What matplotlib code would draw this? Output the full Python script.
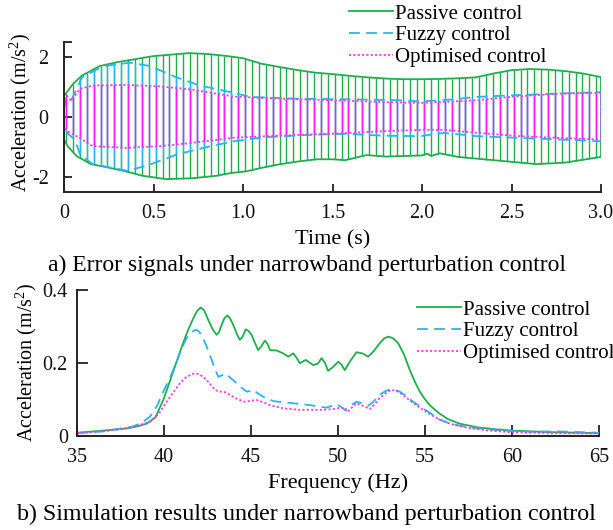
import numpy as np
import matplotlib
matplotlib.use("Agg")
import matplotlib.pyplot as plt
from matplotlib.lines import Line2D

plt.rcParams["font.family"] = ["Liberation Serif", "DejaVu Serif"]
plt.rcParams["mathtext.fontset"] = "custom"
plt.rcParams["mathtext.rm"] = "Liberation Serif"

# ---------------- (a) time-domain error signals: peak envelopes ----------------
t_passive_up = [0.0, 0.05, 0.1, 0.2, 0.3, 0.4, 0.5, 0.6, 0.7, 0.8, 0.9, 1.0, 1.1, 1.2, 1.3,
                1.4, 1.5, 1.6, 1.7, 1.8, 1.9, 2.0, 2.1, 2.2, 2.3, 2.4, 2.5, 2.6, 2.7, 2.8,
                2.9, 3.0]
passive_up = [0.70, 1.10, 1.38, 1.70, 1.83, 1.93, 2.03, 2.08, 2.13, 2.10, 2.04, 1.96, 1.78,
              1.67, 1.57, 1.48, 1.43, 1.37, 1.32, 1.28, 1.26, 1.26, 1.27, 1.29, 1.32, 1.45,
              1.56, 1.60, 1.58, 1.53, 1.45, 1.33]
t_passive_lo = [0.0, 0.02, 0.07, 0.15, 0.26, 0.35, 0.44, 0.57, 0.72, 0.85, 0.93, 1.02, 1.1,
                1.2, 1.3, 1.41, 1.5, 1.57, 1.69, 1.8, 1.9, 2.0, 2.03, 2.05, 2.1, 2.2, 2.4,
                2.64, 2.8, 3.0]
passive_lo = [-0.75, -0.97, -1.30, -1.57, -1.70, -1.82, -1.96, -2.07, -2.04, -1.96, -1.87,
              -1.81, -1.70, -1.58, -1.49, -1.41, -1.41, -1.44, -1.27, -1.32, -1.30, -1.28,
              -1.22, -1.30, -1.21, -1.33, -1.44, -1.57, -1.52, -1.33]

t_fuzzy_up = [0.0, 0.015, 0.04, 0.1, 0.22, 0.37, 0.48, 0.63, 0.76, 0.93, 1.04, 1.3, 1.58,
              1.86, 1.99, 2.12, 2.31, 2.49, 2.77, 3.0]
fuzzy_up = [0.30, 0.67, 0.55, 1.32, 1.70, 1.81, 1.70, 1.32, 1.05, 0.83, 0.67, 0.61, 0.59,
            0.56, 0.52, 0.56, 0.67, 0.72, 0.78, 0.83]
t_fuzzy_lo = [0.0, 0.02, 0.06, 0.09, 0.16, 0.35, 0.46, 0.63, 0.82, 0.95, 1.11, 1.39, 1.58,
              1.77, 1.99, 2.12, 2.31, 2.55, 2.77, 3.0]
fuzzy_lo = [-0.30, -0.55, -0.75, -1.25, -1.57, -1.79, -1.63, -1.25, -0.97, -0.81, -0.68,
            -0.59, -0.56, -0.62, -0.64, -0.53, -0.64, -0.70, -0.75, -0.81]

t_opt_up = [0.0, 0.015, 0.04, 0.09, 0.16, 0.35, 0.54, 0.72, 0.95, 1.21, 1.49, 1.77, 1.99,
            2.12, 2.31, 2.49, 2.77, 3.0]
opt_up = [0.30, 0.72, 0.55, 0.94, 1.05, 1.07, 1.02, 0.91, 0.68, 0.61, 0.56, 0.50, 0.47,
          0.50, 0.56, 0.67, 0.78, 0.81]
t_opt_lo = [0.0, 0.02, 0.07, 0.16, 0.35, 0.54, 0.72, 0.95, 1.21, 1.49, 1.77, 1.99, 2.12,
            2.31, 2.55, 2.77, 3.0]
opt_lo = [-0.30, -0.48, -0.64, -0.97, -1.03, -0.97, -0.86, -0.69, -0.62, -0.56, -0.48,
          -0.43, -0.43, -0.53, -0.64, -0.70, -0.75]

# ---------------- (b) acceleration spectra ----------------
f_passive = [35, 36, 37, 38, 38.5, 39.0, 39.5, 39.96, 40.34, 40.7, 41.1, 41.4, 41.68, 41.9,
             42.1, 42.3, 42.54, 42.8, 43.02, 43.15, 43.31, 43.48, 43.65, 43.8, 43.98, 44.2,
             44.36, 44.52, 44.69, 44.85, 45.03, 45.25, 45.41, 45.6, 45.8, 45.95, 46.09,
             46.47, 46.85, 47.14, 47.43, 47.62, 47.8, 48.15, 48.57, 48.85, 49.05, 49.25,
             49.43, 49.7, 50.01, 50.2, 50.39, 50.7, 51.06, 51.4, 51.73, 52.05, 52.4, 52.65,
             52.88, 53.15, 53.46, 53.8, 54.13, 54.4, 54.7, 55.0, 55.27, 55.8, 56.3, 57.0,
             58.0, 59.0, 60.0, 62.0, 65.0]
passive_amp = [0.008, 0.012, 0.016, 0.021, 0.026, 0.033, 0.050, 0.098, 0.150, 0.200, 0.255,
               0.292, 0.322, 0.342, 0.352, 0.345, 0.318, 0.292, 0.277, 0.283, 0.304, 0.323,
               0.330, 0.322, 0.304, 0.278, 0.263, 0.272, 0.292, 0.288, 0.277, 0.252, 0.235,
               0.246, 0.261, 0.252, 0.235, 0.234, 0.226, 0.217, 0.226, 0.214, 0.199, 0.208,
               0.194, 0.198, 0.213, 0.200, 0.178, 0.188, 0.203, 0.195, 0.180, 0.205, 0.229,
               0.226, 0.217, 0.232, 0.254, 0.267, 0.272, 0.268, 0.254, 0.222, 0.180, 0.150,
               0.121, 0.100, 0.084, 0.062, 0.046, 0.033, 0.023, 0.018, 0.014, 0.010, 0.007]

f_fuzzy = [35, 36.5, 38.2, 38.7, 39.19, 39.6, 39.96, 40.35, 40.73, 41.0, 41.3, 41.55, 41.78,
           41.95, 42.16, 42.45, 42.74, 42.95, 43.12, 43.3, 43.5, 43.8, 44.17, 44.45, 44.75,
           44.95, 45.13, 45.4, 45.7, 46.28, 46.8, 47.23, 47.8, 48.38, 48.9, 49.34, 49.65,
           49.92, 50.15, 50.39, 50.7, 51.06, 51.4, 51.73, 52.05, 52.4, 52.7, 52.98, 53.25,
           53.55, 53.9, 54.32, 54.75, 55.18, 55.8, 56.5, 57.4, 58.5, 59.5, 61.0, 62.5, 63.2,
           65.0]
fuzzy_amp = [0.007, 0.012, 0.025, 0.035, 0.052, 0.082, 0.121, 0.160, 0.203, 0.238, 0.268,
             0.283, 0.290, 0.289, 0.277, 0.245, 0.208, 0.180, 0.162, 0.165, 0.171, 0.160,
             0.144, 0.132, 0.121, 0.123, 0.126, 0.116, 0.107, 0.095, 0.092, 0.090, 0.087,
             0.084, 0.080, 0.077, 0.082, 0.086, 0.080, 0.071, 0.082, 0.093, 0.089, 0.082,
             0.094, 0.112, 0.122, 0.127, 0.126, 0.121, 0.110, 0.093, 0.080, 0.066, 0.045,
             0.032, 0.024, 0.018, 0.014, 0.011, 0.012, 0.011, 0.008]

f_opt = [35, 36.5, 37.85, 38.5, 39.19, 39.7, 40.15, 40.55, 40.92, 41.3, 41.68, 41.95, 42.26,
         42.6, 42.93, 43.15, 43.4, 43.6, 43.79, 44.2, 44.65, 45.0, 45.32, 45.7, 46.09, 46.85,
         47.8, 48.5, 49.15, 49.7, 50.2, 50.38, 50.53, 50.75, 51.06, 51.45, 51.83, 52.1, 52.4,
         52.75, 53.07, 53.4, 53.74, 54.1, 54.5, 54.85, 55.18, 55.8, 56.5, 57.4, 58.5, 60.0,
         62.5, 65.0]
opt_amp = [0.007, 0.012, 0.020, 0.028, 0.038, 0.060, 0.093, 0.120, 0.144, 0.162, 0.170,
           0.170, 0.162, 0.145, 0.126, 0.121, 0.121, 0.118, 0.112, 0.101, 0.093, 0.096,
           0.098, 0.092, 0.084, 0.075, 0.071, 0.071, 0.071, 0.073, 0.077, 0.074, 0.065,
           0.075, 0.089, 0.082, 0.073, 0.086, 0.103, 0.117, 0.126, 0.122, 0.112, 0.098,
           0.084, 0.072, 0.062, 0.045, 0.032, 0.022, 0.015, 0.009, 0.007, 0.006]

labels = ["Passive control", "Fuzzy control", "Optimised control"]
c_green = "#1fae4f"
c_blue = "#2ab4ee"
c_pink = "#f43fe0"
c_hatch = "#ff1aff"
ls_fuzzy = (0, (6, 3.5))
ls_opt = (0, (1.2, 1.2))

fig = plt.figure(figsize=(6.13, 5.30), dpi=100)
W, H = 613.0, 530.0

ax1 = fig.add_axes([64 / W, 1 - 192 / H, (601 - 64) / W, (192 - 42) / H])
ax2 = fig.add_axes([77 / W, 1 - 435.7 / H, (599 - 77) / W, (435.7 - 290) / H])

# Oscillation drawn as evenly spaced vertical strokes between the peak envelopes
t_strokes = np.arange(0.012, 3.0, 1 / 26.0)
series_a = [
    (t_passive_up, passive_up, t_passive_lo, passive_lo, c_green, c_green, "-"),
    (t_fuzzy_up, fuzzy_up, t_fuzzy_lo, fuzzy_lo, c_blue, c_blue, ls_fuzzy),
    (t_opt_up, opt_up, t_opt_lo, opt_lo, c_hatch, c_pink, ls_opt),
]
for tu, vu, tl, vl, c_stroke, c_line, ls in series_a:
    tu, vu, tl, vl = map(np.asarray, (tu, vu, tl, vl))
    top = np.interp(t_strokes, tu, vu)
    bot = np.interp(t_strokes, tl, vl)
    ax1.vlines(t_strokes, bot, top, colors=c_stroke, linewidth=1.0)
    ox = np.concatenate([tu, tl[::-1], tu[:1]])
    oy = np.concatenate([vu, vl[::-1], vu[:1]])
    ax1.plot(ox, oy, color=c_line, lw=1.3, ls=ls)

TICK_FS = 14.5
LABEL_FS = 14.5
ylabel = "Acceleration (m/s$\\mathregular{^2}$)"

ax1.set_xlim(0, 3.0)
ax1.set_ylim(-2.5, 2.5)
ax1.set_xticks([0, 0.5, 1.0, 1.5, 2.0, 2.5, 3.0])
ax1.set_xticklabels(["0", "0.5", "1.0", "1.5", "2.0", "2.5", "3.0"])
ax1.set_yticks([-2, 0, 2, 2.5])
ax1.set_yticklabels(["-2", "0", "2", ""])
ax1.set_xlabel("Time (s)", fontsize=16, labelpad=4.5)
ax1.set_ylabel(ylabel, fontsize=LABEL_FS)
ax1.yaxis.set_label_coords(-0.057, 0.53)

ax2.plot(f_passive, passive_amp, color=c_green, lw=1.3, ls="-")
ax2.plot(f_fuzzy, fuzzy_amp, color=c_blue, lw=1.3, ls=ls_fuzzy)
ax2.plot(f_opt, opt_amp, color=c_pink, lw=1.3, ls=ls_opt)
ax2.set_xlim(35, 65)
ax2.set_ylim(0, 0.4)
ax2.set_xticks([35, 40, 45, 50, 55, 60, 65])
ax2.set_yticks([0, 0.2, 0.4])
ax2.set_yticklabels(["0", "0.2", "0.4"])
ax2.set_xlabel("Frequency (Hz)", fontsize=16, labelpad=4.5)
ax2.set_ylabel(ylabel, fontsize=LABEL_FS)
ax2.yaxis.set_label_coords(-0.073, 0.5)

for ax, tl, ypad in ((ax1, 6, 11), (ax2, 8, 6.5)):
    for side in ("top", "right"):
        ax.spines[side].set_visible(False)
    for side in ("left", "bottom"):
        ax.spines[side].set_linewidth(1.4)
        ax.spines[side].set_color("#222222")
    ax.tick_params(direction="in", length=tl, width=1.3, labelsize=TICK_FS,
                   colors="#222222", labelcolor="#111111")
    ax.tick_params(axis="x", pad=9)
    ax.tick_params(axis="y", pad=ypad)

handles = [
    Line2D([], [], color=c_green, lw=1.3, ls="-"),
    Line2D([], [], color=c_blue, lw=1.3, ls=ls_fuzzy),
    Line2D([], [], color=c_pink, lw=1.3, ls=ls_opt),
]
leg_kw = dict(frameon=False, fontsize=15, handlelength=2.1, handletextpad=0.1,
              labelspacing=0.1, borderaxespad=0, borderpad=0, loc="upper left")
fig.legend(handles, labels, bbox_to_anchor=(349 / W, 1 - 4 / H), **leg_kw)
fig.legend(handles, labels, bbox_to_anchor=(417 / W, 1 - 300 / H), **leg_kw)

fig.text(0.5, 1 - 265 / H, "a) Error signals under narrowband perturbation control",
         ha="center", va="center", fontsize=17)
fig.text(0.5, 1 - 514 / H, "b) Simulation results under narrowband perturbation control",
         ha="center", va="center", fontsize=17.3)

fig.savefig("out.png", dpi=100)
